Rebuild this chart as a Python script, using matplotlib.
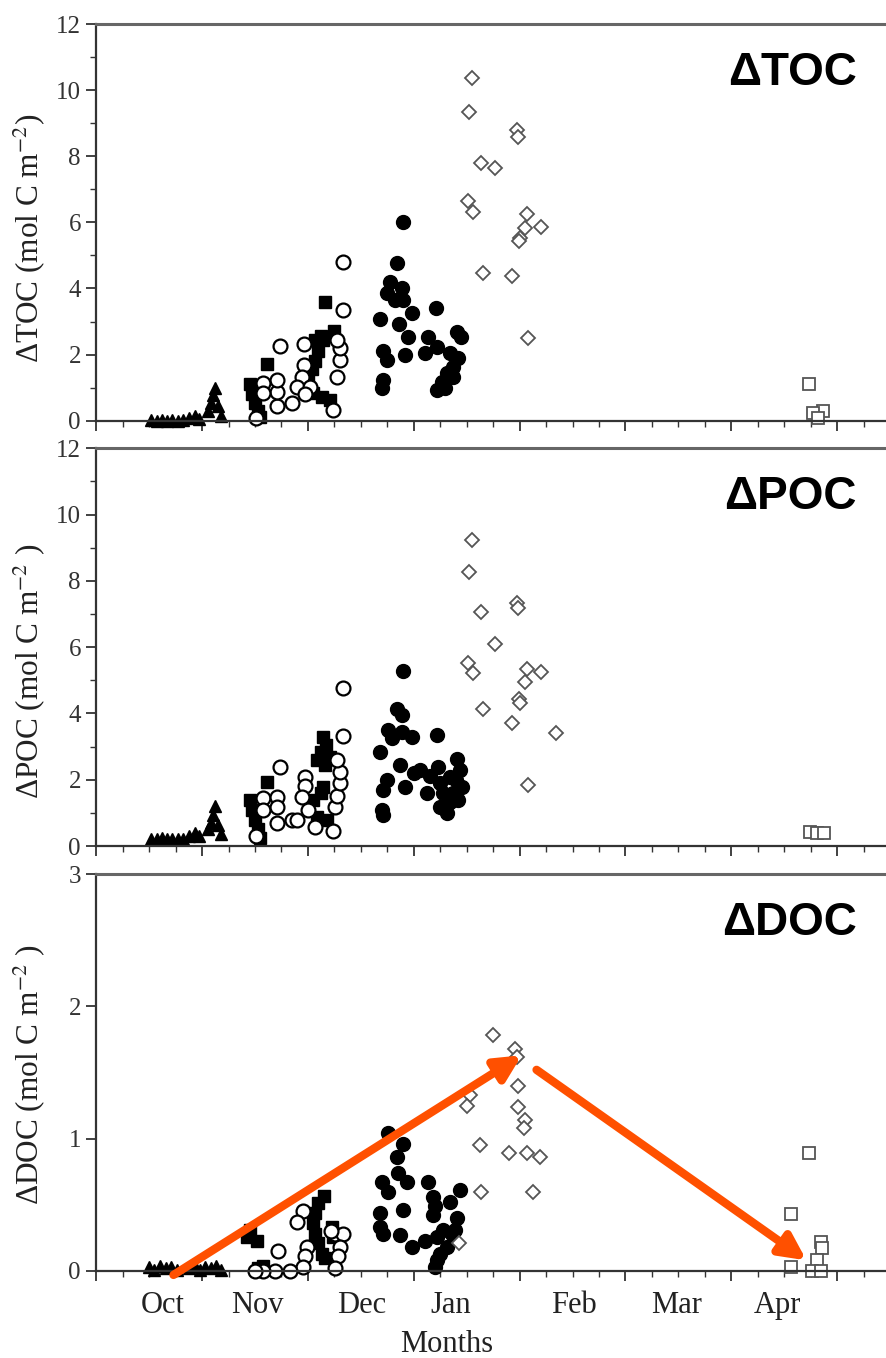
#!/usr/bin/env python3

import matplotlib
matplotlib.use("Agg")
import matplotlib.pyplot as plt
import matplotlib.transforms as mtransforms
from matplotlib.ticker import MultipleLocator

# x values are in months counted from the start of the axis (Oct), y in mol C m-2

# --- Delta TOC ---
toc_tri_x = [0.52, 0.57, 0.62, 0.67, 0.72, 0.77, 0.82, 0.88, 0.93, 0.97, 1.06, 1.08, 1.10, 1.12, 1.15, 1.18]
toc_tri_y = [0.02, 0.0, 0.03, 0.0, 0.02, 0.0, 0.03, 0.08, 0.15, 0.05, 0.3, 0.55, 0.78, 0.98, 0.45, 0.15]
toc_sq_x = [1.45, 1.47, 1.50, 1.53, 1.55, 1.61, 2.00, 2.04, 2.07, 2.10, 2.14, 2.25, 2.05, 2.13, 2.21, 2.16, 2.07, 2.12]
toc_sq_y = [1.1, 0.8, 0.55, 0.3, 0.1, 1.72, 1.3, 1.55, 1.8, 2.1, 2.45, 2.7, 0.85, 0.72, 0.62, 3.6, 2.43, 2.55]
toc_oc_x = [2.335, 2.335, 1.737, 1.964, 1.966, 1.942, 1.895, 2.02, 1.973, 1.847, 1.706, 1.706, 1.706,
            1.579, 1.579, 1.51, 2.235, 2.273, 2.304, 2.304, 2.273]
toc_oc_y = [4.81, 3.35, 2.26, 2.32, 1.68, 1.31, 1.03, 1.03, 0.8, 0.53, 0.45, 0.88, 1.23,
            1.13, 0.83, 0.07, 0.32, 1.31, 1.84, 2.19, 2.44]
toc_fc_x = [2.903, 2.845, 2.776, 2.887, 2.745, 2.823, 2.9, 2.981, 2.682, 2.864, 3.211, 2.949, 2.713, 2.745,
            2.918, 3.138, 3.107, 3.217, 3.406, 3.444, 3.343, 3.422, 3.374, 3.312, 3.265, 3.217, 3.296,
            2.713, 2.698, 3.374]
toc_fc_y = [6.02, 4.78, 4.2, 4.0, 3.85, 3.65, 3.65, 3.25, 3.08, 2.92, 3.4, 2.54, 2.12, 1.84,
            1.99, 2.54, 2.06, 2.24, 2.69, 2.52, 2.04, 1.89, 1.63, 1.43, 1.18, 0.93, 0.98,
            1.23, 0.98, 1.33]
toc_dia_x = [3.548, 3.523, 3.973, 3.989, 3.636, 3.768, 3.51, 3.563, 4.068, 4.2, 4.052, 4.005, 3.99,
             3.652, 3.926, 4.077]
toc_dia_y = [10.36, 9.33, 8.79, 8.59, 7.8, 7.65, 6.65, 6.32, 6.25, 5.87, 5.82, 5.52, 5.44,
             4.48, 4.38, 2.51]
toc_osq_x = [6.738, 6.871, 6.776, 6.82]
toc_osq_y = [1.1, 0.3, 0.22, 0.08]

# --- Delta POC ---
poc_tri_x = toc_tri_x
poc_tri_y = [0.22, 0.2, 0.24, 0.2, 0.22, 0.2, 0.22, 0.3, 0.38, 0.3, 0.5, 0.7, 0.95, 1.22, 0.62, 0.35]
poc_sq_x = [1.45, 1.47, 1.50, 1.53, 1.55, 1.61, 2.14, 2.17, 2.12, 2.09, 2.16, 2.21, 2.14, 2.12, 2.05, 2.09, 2.18]
poc_sq_y = [1.4, 1.1, 0.8, 0.5, 0.25, 1.94, 3.3, 3.05, 2.85, 2.6, 2.45, 2.7, 1.79, 1.6, 1.39, 0.88, 0.78]
poc_oc_x = [2.335, 2.335, 1.737, 1.973, 1.973, 1.942, 1.579, 1.579, 1.706, 1.706, 1.706, 1.847, 1.895,
            1.51, 2.067, 2.235, 2.257, 2.273, 2.304, 2.304, 2.273, 2.004]
poc_oc_y = [4.76, 3.32, 2.37, 2.09, 1.81, 1.49, 1.44, 1.09, 1.49, 1.19, 0.69, 0.78, 0.78,
            0.3, 0.58, 0.46, 1.19, 1.51, 1.89, 2.24, 2.6, 1.09]
poc_fc_x = [2.902, 2.839, 2.887, 2.76, 2.792, 2.887, 2.981, 3.217, 2.682, 2.871, 3.06, 3.233, 3.406,
            2.745, 2.713, 2.918, 3.123, 3.249, 3.343, 3.438, 3.454, 3.374, 3.249, 3.312, 2.698, 2.713,
            3.422, 3.343, 3.28, 3.4, 3.15, 3.0]
poc_fc_y = [5.29, 4.12, 3.95, 3.5, 3.25, 3.45, 3.28, 3.35, 2.85, 2.44, 2.29, 2.39, 2.64,
            1.99, 1.69, 1.79, 1.59, 1.89, 2.09, 2.29, 1.79, 1.59, 1.19, 0.99, 1.09, 0.94,
            1.39, 1.34, 1.6, 2.0, 2.1, 2.2]
poc_dia_x = [3.548, 3.523, 3.973, 3.989, 3.636, 3.768, 3.51, 3.563, 4.068, 4.2, 4.052, 3.99, 4.005,
             3.652, 3.926, 4.345, 4.077]
poc_dia_y = [9.23, 8.28, 7.32, 7.17, 7.07, 6.10, 5.51, 5.21, 5.33, 5.26, 4.96, 4.43, 4.32,
             4.12, 3.70, 3.42, 1.84]
poc_osq_x = [6.74, 6.81, 6.88]
poc_osq_y = [0.42, 0.4, 0.38]

# --- Delta DOC ---
doc_tri_x = [0.50, 0.55, 0.60, 0.66, 0.71, 0.76, 0.88, 0.93, 0.98, 1.03, 1.08, 1.13, 1.18]
doc_tri_y = [0.03, 0.01, 0.04, 0.02, 0.03, 0.01, 0.02, 0.04, 0.01, 0.03, 0.02, 0.04, 0.01]
doc_sq_x = [1.45, 1.52, 1.42, 1.58, 1.53, 2.15, 2.10, 2.07, 2.05, 2.07, 2.10, 2.13, 2.16, 2.23, 2.24]
doc_sq_y = [0.31, 0.23, 0.26, 0.04, 0.02, 0.57, 0.51, 0.44, 0.36, 0.28, 0.21, 0.13, 0.1, 0.33, 0.26]
doc_oc_x = [1.957, 1.895, 1.721, 1.989, 1.973, 1.957, 1.831, 1.69, 1.579, 1.5, 2.257, 2.335, 2.304,
            2.288, 2.257, 2.22]
doc_oc_y = [0.45, 0.37, 0.15, 0.18, 0.11, 0.03, 0.0, 0.0, 0.0, 0.0, 0.28, 0.28, 0.18,
            0.11, 0.02, 0.3]
doc_fc_x = [2.76, 2.902, 2.839, 2.855, 2.934, 2.698, 2.76, 3.138, 3.185, 3.201, 3.185, 3.438, 3.343,
            3.406, 2.902, 2.682, 2.682, 2.713, 2.871, 2.981, 3.107, 3.217, 3.28, 3.359, 3.39, 3.312,
            3.249, 3.217, 3.201]
doc_fc_y = [1.045, 0.96, 0.86, 0.74, 0.67, 0.675, 0.6, 0.67, 0.56, 0.49, 0.42, 0.61, 0.52,
            0.40, 0.46, 0.44, 0.33, 0.28, 0.27, 0.18, 0.23, 0.26, 0.31, 0.28, 0.31, 0.18,
            0.13, 0.08, 0.03]
doc_dia_x = [3.752, 3.957, 3.973, 3.532, 3.501, 3.989, 3.981, 4.052, 4.043, 3.627, 3.904, 4.068,
             4.194, 3.636, 4.13, 3.431]
doc_dia_y = [1.78, 1.68, 1.62, 1.33, 1.25, 1.40, 1.24, 1.14, 1.08, 0.95, 0.89, 0.89,
             0.86, 0.60, 0.60, 0.21]
doc_osq_x = [6.738, 6.565, 6.849, 6.855, 6.808, 6.565, 6.76, 6.849]
doc_osq_y = [0.89, 0.43, 0.22, 0.17, 0.08, 0.03, 0.0, 0.0]

# arrows drawn on the DOC panel (start, end)
arrow_up = [(0.73, -0.03), (4.02, 1.63)]
arrow_down = [(4.16, 1.52), (6.71, 0.08)]

months = ['Oct', 'Nov', 'Dec', 'Jan', 'Feb', 'Mar', 'Apr']
month_pos = [0.63, 1.52, 2.51, 3.35, 4.51, 5.48, 6.44]

serif = 'Liberation Serif'
plt.rcParams['mathtext.fontset'] = 'stix'

fig = plt.figure(figsize=(8.86, 13.58), dpi=100)

# axes boxes: [left, bottom, width, height] in figure fraction
boxes = [[0.1086, 0.6902, 0.896, 0.2921],
         [0.1086, 0.3770, 0.896, 0.2929],
         [0.1086, 0.0641, 0.896, 0.2923]]

panels = [
    dict(name='ΔTOC', ylabel=r'ΔTOC (mol C m$^{-2}$)', ymax=12, ystep=2, ylab_y=0.46,
         tri=(toc_tri_x, toc_tri_y), sq=(toc_sq_x, toc_sq_y), oc=(toc_oc_x, toc_oc_y),
         fc=(toc_fc_x, toc_fc_y), dia=(toc_dia_x, toc_dia_y), osq=(toc_osq_x, toc_osq_y)),
    dict(name='ΔPOC', ylabel=r'ΔPOC (mol C m$^{-2}$ )', ymax=12, ystep=2, ylab_y=0.44,
         tri=(poc_tri_x, poc_tri_y), sq=(poc_sq_x, poc_sq_y), oc=(poc_oc_x, poc_oc_y),
         fc=(poc_fc_x, poc_fc_y), dia=(poc_dia_x, poc_dia_y), osq=(poc_osq_x, poc_osq_y)),
    dict(name='ΔDOC', ylabel=r'ΔDOC (mol C m$^{-2}$ )', ymax=3, ystep=1, ylab_y=0.494,
         tri=(doc_tri_x, doc_tri_y), sq=(doc_sq_x, doc_sq_y), oc=(doc_oc_x, doc_oc_y),
         fc=(doc_fc_x, doc_fc_y), dia=(doc_dia_x, doc_dia_y), osq=(doc_osq_x, doc_osq_y)),
]

for i, p in enumerate(panels):
    ax = fig.add_axes(boxes[i])

    # markers, one style per sampling period
    ax.plot(*p['tri'], linestyle='none', marker='^', ms=9, color='black', clip_on=False)
    ax.plot(*p['sq'], linestyle='none', marker='s', ms=9, color='black', clip_on=False)
    ax.plot(*p['oc'], linestyle='none', marker='o', ms=10, mfc='white', mec='black', mew=1.6, clip_on=False)
    ax.plot(*p['fc'], linestyle='none', marker='o', ms=10, color='black', clip_on=False)
    ax.plot(*p['dia'], linestyle='none', marker='D', ms=7, mfc='white', mec='#555555', mew=1.3, clip_on=False)
    ax.plot(*p['osq'], linestyle='none', marker='s', ms=9, mfc='white', mec='#555555', mew=1.3, clip_on=False)

    ax.set_xlim(0, 7.5)
    ax.set_ylim(0, p['ymax'])

    # ticks
    ax.xaxis.set_major_locator(MultipleLocator(1))
    ax.xaxis.set_minor_locator(MultipleLocator(0.25))
    ax.yaxis.set_major_locator(MultipleLocator(p['ystep']))
    if p['ymax'] == 12:
        ax.yaxis.set_minor_locator(MultipleLocator(1))
    ax.tick_params(axis='both', which='major', direction='out', length=7, width=1.3, color='#333333')
    ax.tick_params(axis='both', which='minor', direction='out', length=4, width=1.0, color='#333333')
    ax.tick_params(axis='x', labelbottom=False)
    ax.tick_params(axis='y', labelsize=18, labelcolor='#333333', pad=4)
    for lab in ax.get_yticklabels():
        lab.set_fontfamily(serif)

    for side in ['left', 'bottom']:
        ax.spines[side].set_linewidth(1.6)
        ax.spines[side].set_color('#333333')
    ax.spines['top'].set_linewidth(2.2)
    ax.spines['top'].set_color('#666666')
    ax.spines['right'].set_visible(False)

    ax.set_ylabel(p['ylabel'], fontsize=22.5, fontfamily=serif, color='#222222')
    ax.yaxis.set_label_coords(-0.062, p['ylab_y'])

    ax.text(0.958, 0.877, p['name'], transform=ax.transAxes, ha='right', va='center',
            fontsize=33, fontweight='bold', fontfamily='Liberation Sans')

    if i == 2:
        # month names under the bottom panel
        trans = mtransforms.blended_transform_factory(ax.transData, ax.transAxes)
        for m, xpos in zip(months, month_pos):
            ax.text(xpos, -0.086, m, transform=trans, ha='center', va='center',
                    fontsize=22, fontfamily=serif, color='#222222')
        ax.text(3.315, -0.186, 'Months', transform=trans, ha='center', va='center',
                fontsize=22, fontfamily=serif, color='#222222')

        # orange trend arrows
        for start, end in [arrow_up, arrow_down]:
            ax.annotate('', xy=end, xytext=start, annotation_clip=False,
                        arrowprops=dict(arrowstyle='-|>', color='#FF5000', lw=6,
                                        mutation_scale=38, shrinkA=0, shrinkB=0))

fig.savefig('out.png', dpi=100)
